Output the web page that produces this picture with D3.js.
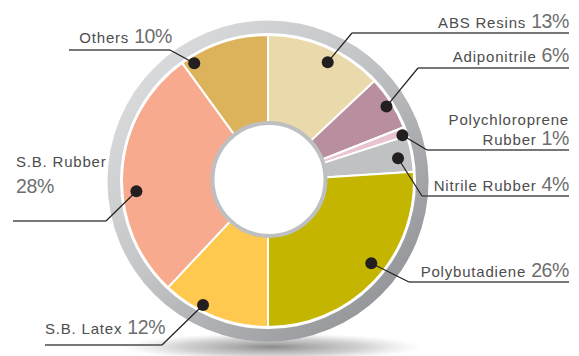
<!DOCTYPE html>
<html><head><meta charset="utf-8">
<script src="https://cdn.jsdelivr.net/npm/d3@7"></script>
<style>body{margin:0;background:#fff} svg{display:block}</style>
</head><body><svg id="c" width="579" height="356"></svg>
<script>
// ---- data ----
const categories = ["ABS Resins","Adiponitrile","Polychloroprene Rubber","Nitrile Rubber","Polybutadiene","S.B. Latex","S.B. Rubber","Others"];
const values = [13,6,1,4,26,12,28,10];
const colors = ["#e9d9ab","#b98e9f","#e9c4d0","#c0c1c3","#c3b500","#fec94e","#f8aa8f","#dcb35b"];
const nameLines = [["ABS Resins"],["Adiponitrile"],["Polychloroprene","Rubber"],["Nitrile Rubber"],["Polybutadiene"],["S.B. Latex"],["S.B. Rubber",""],["Others"]];

// ---- layout (annotation placement) ----
const cx = 268, cy = 181;
const layout = [
  {t:0.57, r:133, ux0:352, ux1:569, uy:33,  anchor:"end",   tx:569, ty:[28]},
  {t:0.51, r:140, ux0:418, ux1:569, uy:68,  anchor:"end",   tx:569, ty:[62]},
  {t:0.78, r:142, ux0:427, ux1:569, uy:150, anchor:"end",   tx:569, ty:[125,145]},
  {t:0.56, r:132, ux0:422, ux1:569, uy:196, anchor:"end",   tx:569, ty:[191]},
  {t:0.45, r:132, ux0:409, ux1:569, uy:282, anchor:"end",   tx:569, ty:[277]},
  {t:0.64, r:140, ux0:45,  ux1:162, uy:345, anchor:"start", tx:45,  ty:[334]},
  {t:0.42, r:132, ux0:13,  ux1:106, uy:221, anchor:"start", tx:16,  ty:[167,193]},
  {t:0.11, r:139, ux0:69,  ux1:170, uy:50,  anchor:"end",   tx:172, ty:[43]}
];

const svg = d3.select("#c");
const defs = svg.append("defs");
const rg = defs.append("linearGradient").attr("id","ring").attr("x1","0").attr("y1","0").attr("x2","1").attr("y2","1");
rg.append("stop").attr("offset","0%").attr("stop-color","#e2e3e5");
rg.append("stop").attr("offset","45%").attr("stop-color","#c4c5c7");
rg.append("stop").attr("offset","100%").attr("stop-color","#86878b");
const sg = defs.append("radialGradient").attr("id","shadow");
sg.append("stop").attr("offset","0%").attr("stop-color","#777").attr("stop-opacity",0.85);
sg.append("stop").attr("offset","60%").attr("stop-color","#999").attr("stop-opacity",0.45);
sg.append("stop").attr("offset","100%").attr("stop-color","#bbb").attr("stop-opacity",0);

// shadow
svg.append("ellipse").attr("cx",cx+4).attr("cy",cy+166).attr("rx",150).attr("ry",14).attr("fill","url(#shadow)");

const g = svg.append("g").attr("transform",`translate(${cx},${cy})`);

// outer ring
g.append("path").attr("d", d3.arc()({innerRadius:148, outerRadius:160.5, startAngle:0, endAngle:2*Math.PI}))
  .attr("fill","url(#ring)");

// slices
const pie = d3.pie().sort(null).value(d => d);
const arcs = pie(values);
const arc = d3.arc().innerRadius(40).outerRadius(146);
g.selectAll("path.slice").data(arcs).join("path").attr("class","slice")
  .attr("d", arc).attr("fill",(d,i)=>colors[i]).attr("stroke","#fff").attr("stroke-width",2).attr("stroke-linejoin","round");

// inner hole
g.append("circle").attr("cx",1).attr("cy",-1.5).attr("r",56.5).attr("fill","#fff").attr("stroke","#bebfc1").attr("stroke-width",4);

// annotations
arcs.forEach((a,i) => {
  const L = layout[i];
  const ang = a.startAngle + (a.endAngle - a.startAngle) * L.t;
  const dx = cx + L.r * Math.sin(ang), dy = cy - L.r * Math.cos(ang);
  const elbowX = L.anchor === "end" && L.tx > 300 ? L.ux0 : L.ux1;
  svg.append("line").attr("x1",dx).attr("y1",dy).attr("x2",elbowX).attr("y2",L.uy)
    .attr("stroke","#231f20").attr("stroke-width",1.2);
  svg.append("line").attr("x1",L.ux0).attr("y1",L.uy).attr("x2",L.ux1).attr("y2",L.uy)
    .attr("stroke","#4a4a4a").attr("stroke-width",1.4);
  svg.append("circle").attr("cx",dx).attr("cy",dy).attr("r",6).attr("fill","#231f20");
  const lines = nameLines[i];
  lines.forEach((ln, k) => {
    const txt = svg.append("text").attr("x",L.tx).attr("y",L.ty[k]).attr("text-anchor",L.anchor)
      .style("font-family","'Liberation Sans', Arial, sans-serif");
    if (ln) txt.append("tspan").text(ln).attr("font-size",15).attr("fill","#4d4d4d").attr("letter-spacing",0.8);
    if (k === lines.length - 1) {
      txt.append("tspan").text((ln ? " " : "") + values[i] + "%").attr("font-size",19.5).attr("fill","#6e6e6e").attr("letter-spacing",-0.4);
    }
  });
});
</script></body></html>
